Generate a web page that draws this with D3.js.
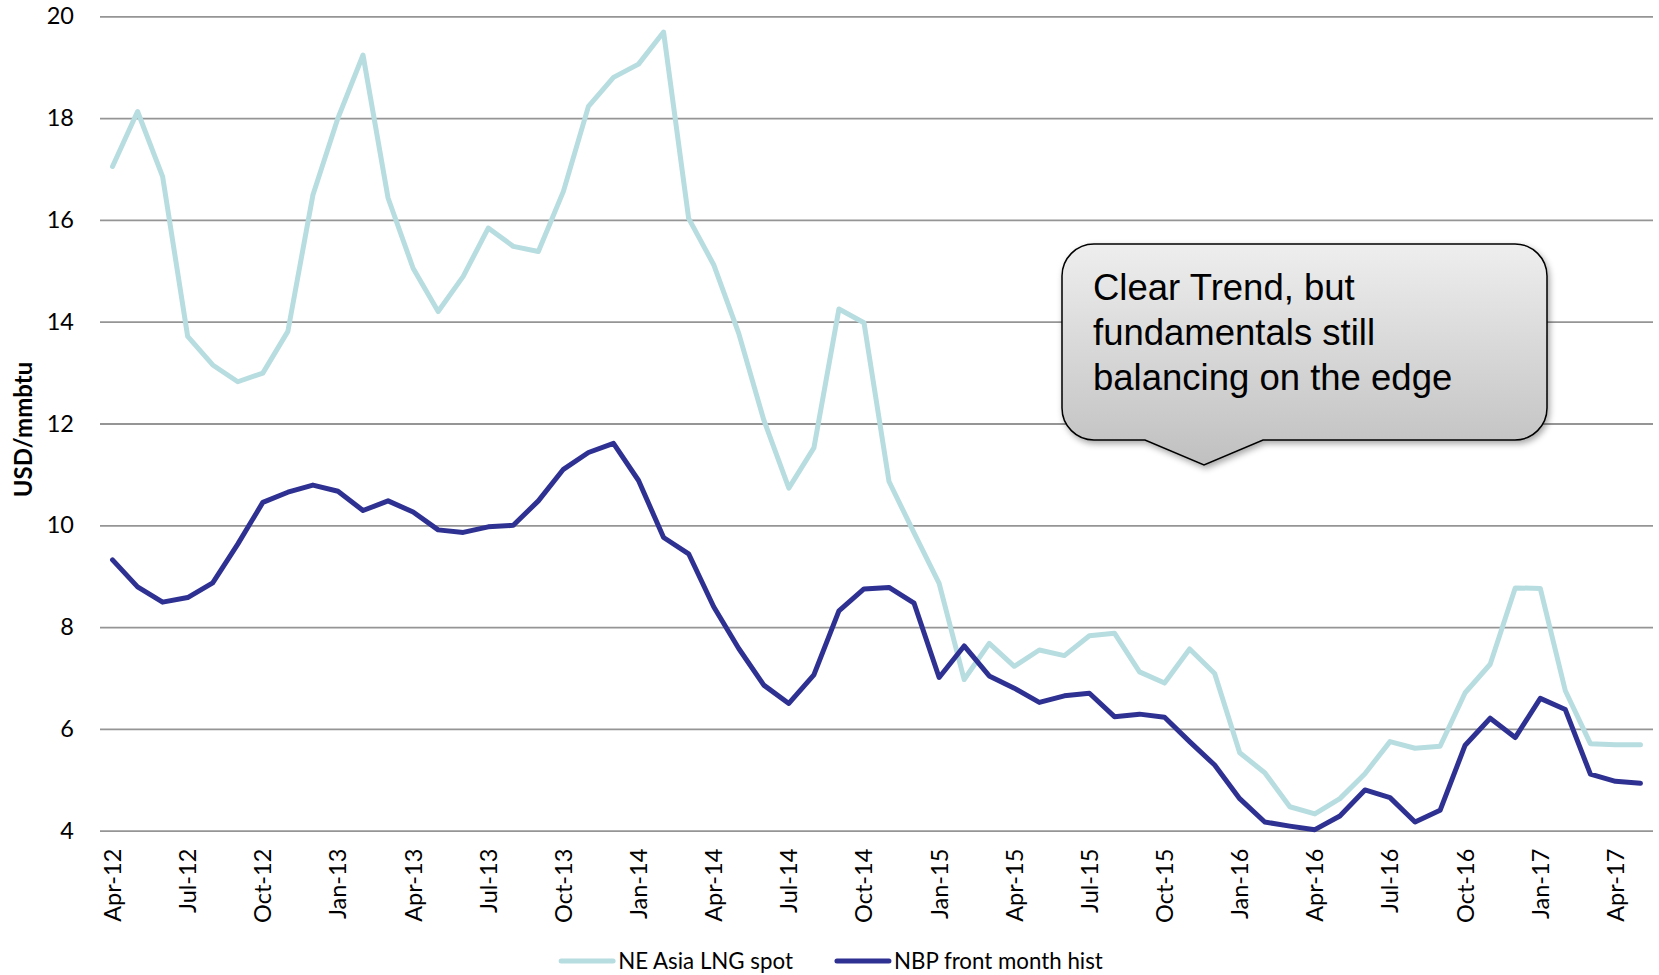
<!DOCTYPE html>
<html>
<head>
<meta charset="utf-8">
<script src="https://cdn.jsdelivr.net/npm/d3@7"></script>
<style>
  html, body { margin: 0; padding: 0; background: #fff; }
  svg { display: block; }
</style>
</head>
<body>
<script>
// monthly categories, Apr-12 .. May-17
const months = d3.timeMonth.range(new Date(2012, 3, 1), new Date(2017, 5, 1))

const lngSpot = [
    17.05, 18.13, 16.85, 13.71, 13.15, 12.82, 12.99, 13.81, 16.49,
    18.0, 19.24, 16.43, 15.05, 14.2, 14.89, 15.84, 15.48, 15.38, 16.56, 18.23, 18.8,
    19.06, 19.69, 16.03, 15.12, 13.77, 12.07, 10.73, 11.52, 14.25, 13.98, 10.86, 9.85,
    8.86, 6.97, 7.68, 7.23, 7.55, 7.44, 7.83, 7.88, 7.12, 6.9, 7.57, 7.09,
    5.53, 5.14, 4.47, 4.33, 4.63, 5.12, 5.75, 5.62, 5.66, 6.71, 7.27, 8.77,
    8.76, 6.75, 5.71, 5.69, 5.69
]

const nbpFront = [
    9.32, 8.79, 8.49, 8.58, 8.87, 9.63, 10.45, 10.65, 10.79,
    10.67, 10.29, 10.48, 10.26, 9.91, 9.86, 9.97, 10.0, 10.48, 11.1, 11.43, 11.61,
    10.88, 9.76, 9.44, 8.4, 7.58, 6.86, 6.5, 7.06, 8.32, 8.75, 8.78, 8.47,
    7.01, 7.63, 7.04, 6.8, 6.52, 6.65, 6.7, 6.24, 6.29, 6.23, 5.75, 5.29,
    4.63, 4.17, 4.09, 4.02, 4.29, 4.8, 4.65, 4.17, 4.4, 5.68, 6.21, 5.83,
    6.6, 6.38, 5.11, 4.97, 4.93
]

const yTicks = [4, 6, 8, 10, 12, 14, 16, 18, 20]
const seriesNames = ["NE Asia LNG spot", "NBP front month hist"]
const seriesColors = ["#b7dde0", "#2e3192"]
const calloutLines = ["Clear Trend, but", "fundamentals still", "balancing on the edge"]

const width = 1659
const height = 975
const margin = {top: 16.3, right: 6, bottom: 144.3, left: 100}

const svg = d3.select("body").append("svg")
    .attr("width", width)
    .attr("height", height)

const x = d3.scaleBand()
    .domain(months)
    .range([margin.left, width - margin.right])

const y = d3.scaleLinear()
    .domain([4, 20])
    .range([height - margin.bottom, margin.top])

const cx = d => x(d) + x.bandwidth() / 2

// gridlines + y labels
const yAxis = svg.append("g")
    .attr("transform", `translate(${margin.left},0)`)
    .call(d3.axisLeft(y)
        .tickValues(yTicks)
        .tickSize(-(width - margin.left - margin.right))
        .tickPadding(26)
        .tickFormat(d3.format("d")))

yAxis.select(".domain").remove()
yAxis.selectAll(".tick line")
    .attr("stroke", "#959595")
    .attr("stroke-width", 1.8)
yAxis.selectAll(".tick text")
    .attr("fill", "#000")
    .style("font", "23.5px Lato, 'Open Sans', sans-serif")

// x labels, every third month
const xAxis = svg.append("g")
    .attr("transform", `translate(0,${height - margin.bottom})`)
    .call(d3.axisBottom(x)
        .tickValues(months.filter((d, i) => i % 3 === 0))
        .tickSize(0)
        .tickFormat(d3.timeFormat("%b-%y")))

xAxis.select(".domain").remove()
xAxis.selectAll(".tick text")
    .attr("transform", "rotate(-90)")
    .attr("text-anchor", "end")
    .attr("x", -18)
    .attr("y", 0)
    .attr("dy", "0.36em")
    .attr("fill", "#000")
    .style("font", "23.5px Lato, 'Open Sans', sans-serif")

// y title
svg.append("text")
    .attr("transform", `translate(24,${(y(20) + y(4)) / 2 + 6}) rotate(-90)`)
    .attr("text-anchor", "middle")
    .attr("dy", "0.35em")
    .style("font", "bold 24px Lato, 'Open Sans', sans-serif")
    .text("USD/mmbtu")

// lines
const line = d3.line()
    .x((d, i) => cx(months[i]))
    .y(d => y(d))

const series = [lngSpot, nbpFront]

svg.append("g")
    .attr("fill", "none")
    .attr("stroke-width", 5)
    .attr("stroke-linejoin", "round")
    .attr("stroke-linecap", "round")
    .selectAll("path")
    .data(series)
    .join("path")
    .attr("stroke", (d, i) => seriesColors[i])
    .attr("d", line)

// legend
const legend = svg.append("g")
const legendY = 961
let lx = 0
const items = legend.selectAll("g")
    .data(seriesNames)
    .join("g")

items.append("line")
    .attr("x1", 0).attr("x2", 52)
    .attr("y1", legendY).attr("y2", legendY)
    .attr("stroke", (d, i) => seriesColors[i])
    .attr("stroke-width", 5)
    .attr("stroke-linecap", "round")

items.append("text")
    .attr("x", 57)
    .attr("y", legendY)
    .attr("dy", "0.35em")
    .style("font", "22.3px Lato, 'Open Sans', sans-serif")
    .text(d => d)

items.each(function () {
    const g = d3.select(this)
    g.attr("transform", `translate(${lx},0)`)
    lx += 57 + g.select("text").node().getComputedTextLength() + 44
})
lx -= 44
legend.attr("transform", `translate(${832 - lx / 2},0)`)

// callout
const defs = svg.append("defs")
const grad = defs.append("linearGradient")
    .attr("id", "calloutFill")
    .attr("x1", 0).attr("y1", 0).attr("x2", 0).attr("y2", 1)
grad.append("stop").attr("offset", "0%").attr("stop-color", "#eeeeee")
grad.append("stop").attr("offset", "100%").attr("stop-color", "#c0c0c0")

const shadow = defs.append("filter")
    .attr("id", "calloutShadow")
    .attr("x", "-10%").attr("y", "-10%").attr("width", "125%").attr("height", "130%")
shadow.append("feDropShadow")
    .attr("dx", 2).attr("dy", 3)
    .attr("stdDeviation", 3)
    .attr("flood-color", "#000")
    .attr("flood-opacity", 0.35)

const box = {x0: 1062, y0: 244, x1: 1547, y1: 440, r: 32}
const tip = {x: 1204, y: 465, left: 1145, right: 1263}

const calloutPath = `M${box.x0 + box.r},${box.y0}
    H${box.x1 - box.r} A${box.r},${box.r} 0 0 1 ${box.x1},${box.y0 + box.r}
    V${box.y1 - box.r} A${box.r},${box.r} 0 0 1 ${box.x1 - box.r},${box.y1}
    H${tip.right} L${tip.x},${tip.y} L${tip.left},${box.y1}
    H${box.x0 + box.r} A${box.r},${box.r} 0 0 1 ${box.x0},${box.y1 - box.r}
    V${box.y0 + box.r} A${box.r},${box.r} 0 0 1 ${box.x0 + box.r},${box.y0} Z`

svg.append("path")
    .attr("d", calloutPath)
    .attr("fill", "url(#calloutFill)")
    .attr("stroke", "#000")
    .attr("stroke-width", 1.5)
    .attr("filter", "url(#calloutShadow)")

svg.append("text")
    .style("font", "36.5px 'Liberation Sans', Arial, sans-serif")
    .attr("fill", "#000")
    .selectAll("tspan")
    .data(calloutLines)
    .join("tspan")
    .attr("x", 1093)
    .attr("y", (d, i) => 300 + i * 45)
    .text(d => d)
</script>
</body>
</html>
